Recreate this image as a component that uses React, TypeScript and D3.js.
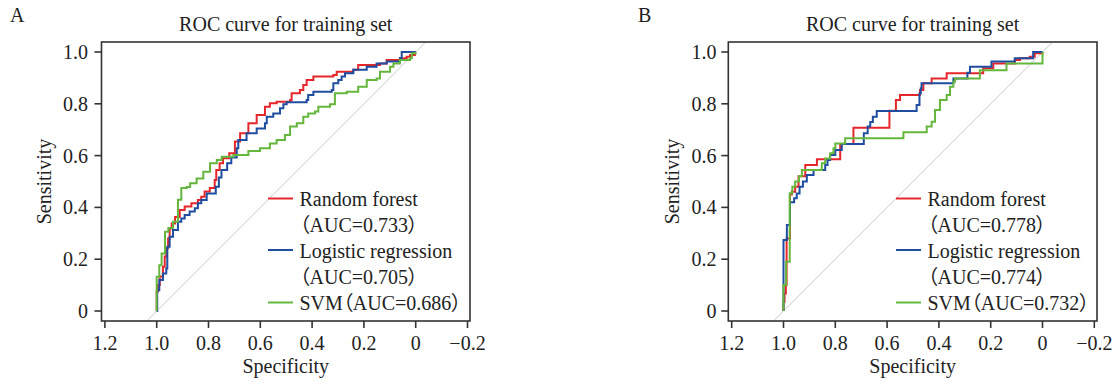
import React from "react";
import * as d3 from "d3";

// ---------- data ----------
const xTickValues = [1.2, 1.0, 0.8, 0.6, 0.4, 0.2, 0, -0.2];
const xTickLabels = ["1.2", "1.0", "0.8", "0.6", "0.4", "0.2", "0", "−0.2"];
const yTickValues = [0, 0.2, 0.4, 0.6, 0.8, 1.0];
const yTickLabels = ["0", "0.2", "0.4", "0.6", "0.8", "1.0"];
const panelLetters = ["A", "B"];
const panelTitle = "ROC curve for training set";
const xAxisTitle = "Specificity";
const yAxisTitle = "Sensitivity";
const seriesNames = ["Random forest", "Logistic regression", "SVM"];
const seriesColors = ["#e5262b", "#1f4d9f", "#64b63c"];
const aucA = ["0.733", "0.705", "0.686"];
const aucB = ["0.778", "0.774", "0.732"];

// [specificity, sensitivity] – step points (value reached at that specificity)
const rfA: [number, number][] = [
  [1, 0], [1, 0.075], [0.995, 0.1], [0.988, 0.133], [0.976, 0.171], [0.969, 0.21],
  [0.963, 0.242], [0.956, 0.28], [0.95, 0.319], [0.942, 0.338], [0.929, 0.363],
  [0.911, 0.39], [0.892, 0.403], [0.866, 0.416], [0.841, 0.429], [0.828, 0.441],
  [0.815, 0.461], [0.795, 0.475], [0.776, 0.506], [0.77, 0.544], [0.757, 0.57],
  [0.744, 0.59], [0.72, 0.609], [0.698, 0.654], [0.678, 0.686], [0.646, 0.725],
  [0.614, 0.757], [0.582, 0.789], [0.563, 0.802], [0.537, 0.808], [0.485, 0.815],
  [0.479, 0.841], [0.447, 0.853], [0.434, 0.873], [0.421, 0.892], [0.395, 0.905],
  [0.318, 0.911], [0.305, 0.924], [0.241, 0.931], [0.222, 0.95], [0.138, 0.956],
  [0.112, 0.969], [0.061, 0.976], [0.035, 0.982], [0.022, 0.988], [0.003, 1.0], [0, 1.0],
];
const lrA: [number, number][] = [
  [1, 0], [0.998, 0.08], [0.99, 0.12], [0.976, 0.145], [0.963, 0.164], [0.959, 0.248],
  [0.95, 0.287], [0.937, 0.313], [0.918, 0.345], [0.905, 0.357], [0.892, 0.371],
  [0.873, 0.384], [0.853, 0.397], [0.841, 0.416], [0.828, 0.429], [0.807, 0.454],
  [0.772, 0.48], [0.76, 0.515], [0.75, 0.544], [0.728, 0.57], [0.712, 0.593],
  [0.691, 0.628], [0.685, 0.66], [0.653, 0.686], [0.614, 0.705], [0.582, 0.725],
  [0.575, 0.75], [0.55, 0.763], [0.524, 0.783], [0.511, 0.798], [0.498, 0.806],
  [0.421, 0.815], [0.415, 0.834], [0.395, 0.847], [0.324, 0.853], [0.318, 0.879],
  [0.299, 0.892], [0.286, 0.905], [0.273, 0.918], [0.241, 0.931], [0.189, 0.943],
  [0.151, 0.956], [0.112, 0.963], [0.061, 0.976], [0.054, 1.0], [0, 1.0],
];
const svmA: [number, number][] = [
  [1, 0], [1, 0.132], [0.99, 0.177], [0.981, 0.222], [0.968, 0.306], [0.955, 0.32],
  [0.937, 0.345], [0.918, 0.43], [0.905, 0.475], [0.884, 0.479], [0.871, 0.493],
  [0.846, 0.512], [0.82, 0.538], [0.794, 0.57], [0.768, 0.583], [0.749, 0.596],
  [0.704, 0.602], [0.646, 0.618], [0.601, 0.628], [0.563, 0.647], [0.537, 0.66],
  [0.505, 0.68], [0.485, 0.712], [0.459, 0.725], [0.434, 0.75], [0.415, 0.763],
  [0.389, 0.77], [0.376, 0.789], [0.331, 0.798], [0.312, 0.841], [0.266, 0.847],
  [0.222, 0.866], [0.189, 0.892], [0.151, 0.898], [0.138, 0.924], [0.099, 0.943],
  [0.086, 0.956], [0.061, 0.969], [0.022, 0.976], [0.015, 0.995], [0, 1.0],
];

const rfB: [number, number][] = [
  [1, 0], [1, 0.036], [0.996, 0.068], [0.991, 0.1], [0.988, 0.28], [0.975, 0.45],
  [0.968, 0.46], [0.955, 0.48], [0.942, 0.52], [0.916, 0.564], [0.871, 0.586],
  [0.781, 0.645], [0.73, 0.708], [0.591, 0.773], [0.566, 0.815], [0.55, 0.834],
  [0.473, 0.853], [0.46, 0.879], [0.428, 0.898], [0.37, 0.918], [0.229, 0.937],
  [0.19, 0.956], [0.107, 0.969], [0.087, 0.976], [0.049, 0.982], [0.03, 0.995], [0, 1.0],
];
const lrB: [number, number][] = [
  [1, 0], [1, 0.274], [0.987, 0.332], [0.975, 0.42], [0.959, 0.435], [0.949, 0.454],
  [0.938, 0.48], [0.925, 0.5], [0.91, 0.525], [0.884, 0.544], [0.839, 0.564],
  [0.83, 0.583], [0.82, 0.602], [0.8, 0.622], [0.775, 0.645], [0.69, 0.686],
  [0.675, 0.712], [0.665, 0.73], [0.655, 0.75], [0.64, 0.772], [0.486, 0.795],
  [0.475, 0.84], [0.47, 0.86], [0.467, 0.879], [0.344, 0.898], [0.29, 0.92],
  [0.28, 0.943], [0.197, 0.963], [0.107, 0.976], [0.036, 1.0], [0, 1.0],
];
const svmB: [number, number][] = [
  [1, 0], [1, 0.1], [0.99, 0.19], [0.976, 0.455], [0.966, 0.48], [0.955, 0.5],
  [0.94, 0.52], [0.929, 0.544], [0.852, 0.57], [0.839, 0.589], [0.82, 0.609],
  [0.807, 0.628], [0.8, 0.647], [0.762, 0.667], [0.537, 0.69], [0.447, 0.712],
  [0.428, 0.731], [0.415, 0.776], [0.396, 0.815], [0.37, 0.834], [0.357, 0.866],
  [0.344, 0.885], [0.338, 0.898], [0.242, 0.93], [0.139, 0.956], [0, 0.963], [0, 1.0],
];

const diagonal: [number, number][] = [[1.039, -0.039], [-0.039, 1.039]];

// ---------- layout ----------
const FONT = "'Liberation Serif', 'Times New Roman', 'Noto Sans CJK SC', serif";
const TXT = "#222";

type PanelProps = {
  letter: string;
  letterX: number;
  boxL: number;
  boxR: number;
  xr: [number, number];
  yLabelX: number;
  tickLabelX: number;
  legX: number;
  series: [number, number][][];
  aucs: string[];
  clipId: string;
};

const boxT = 42;
const boxB = 321;

function Panel(p: PanelProps) {
  const x = d3.scaleLinear().domain([1.2, -0.2]).range(p.xr);
  const y = d3.scaleLinear().domain([0, 1]).range([311, 52]);
  const line = d3
    .line<[number, number]>()
    .x((d) => x(d[0]))
    .y((d) => y(d[1]))
    .curve(d3.curveStepAfter);
  const straight = d3
    .line<[number, number]>()
    .x((d) => x(d[0]))
    .y((d) => y(d[1]));
  const cx = (p.boxL + p.boxR) / 2;
  const rows: { t: string; color?: string }[] = [
    { t: seriesNames[0], color: seriesColors[0] },
    { t: "（AUC=" + p.aucs[0] + "）" },
    { t: seriesNames[1], color: seriesColors[1] },
    { t: "（AUC=" + p.aucs[1] + "）" },
    { t: seriesNames[2] + "（AUC=" + p.aucs[2] + "）", color: seriesColors[2] },
  ];
  const rowBase = [206, 232, 257.5, 284, 310];
  return (
    <g fontFamily={FONT} fill={TXT}>
      <defs>
        <clipPath id={p.clipId}>
          <rect x={p.boxL} y={boxT} width={p.boxR - p.boxL} height={boxB - boxT} />
        </clipPath>
      </defs>
      <text x={p.letterX} y={22} fontSize={20}>{p.letter}</text>
      <text x={cx} y={31} fontSize={20} textAnchor="middle">{panelTitle}</text>
      <path d={straight(diagonal) || ""} stroke="#c9c9c9" strokeWidth={1} fill="none" clipPath={`url(#${p.clipId})`} />
      {p.series.map((s, i) => (
        <path key={i} d={line(s) || ""} stroke={seriesColors[i]} strokeWidth={2} fill="none" strokeLinejoin="miter" />
      ))}
      <rect x={p.boxL} y={boxT} width={p.boxR - p.boxL} height={boxB - boxT} fill="none" stroke="#333" strokeWidth={1.6} />
      {yTickValues.map((v, i) => (
        <g key={"y" + i}>
          <line x1={p.boxL - 7} x2={p.boxL} y1={y(v)} y2={y(v)} stroke="#333" strokeWidth={1.6} />
          <text x={p.tickLabelX} y={y(v) + 7} fontSize={20} textAnchor="end">{yTickLabels[i]}</text>
        </g>
      ))}
      {xTickValues.map((v, i) => (
        <g key={"x" + i}>
          <line x1={x(v)} x2={x(v)} y1={boxB} y2={boxB + 7} stroke="#333" strokeWidth={1.6} />
          <text x={x(v)} y={350} fontSize={20} textAnchor="middle">{xTickLabels[i]}</text>
        </g>
      ))}
      <text x={cx} y={373} fontSize={20} textAnchor="middle">{xAxisTitle}</text>
      <text transform={`translate(${p.yLabelX},${(boxT + boxB) / 2}) rotate(-90)`} fontSize={20} textAnchor="middle">{yAxisTitle}</text>
      {rows.map((r, i) => (
        <g key={"l" + i}>
          {r.color && (
            <line x1={p.legX} x2={p.legX + 25} y1={rowBase[i] - 7.5} y2={rowBase[i] - 7.5} stroke={r.color} strokeWidth={2} />
          )}
          <text x={p.legX + 31.5} y={rowBase[i]} fontSize={20} style={{ fontFeatureSettings: '"palt" 1' }}>
            {r.t}
          </text>
        </g>
      ))}
    </g>
  );
}

export default function App() {
  return (
    <svg width={1116} height={384} style={{ position: "fixed", left: 0, top: 0, background: "#fff" }}>
      <rect width={1116} height={384} fill="#fff" />
      <Panel letter={panelLetters[0]} letterX={10} boxL={101.5} boxR={470} xr={[104.9, 467.5]} yLabelX={51}
        tickLabelX={88} legX={268} series={[rfA, lrA, svmA]} aucs={aucA} clipId="clipA" />
      <Panel letter={panelLetters[1]} letterX={638} boxL={728.3} boxR={1097} xr={[731.7, 1094.3]} yLabelX={679}
        tickLabelX={716.5} legX={896} series={[rfB, lrB, svmB]} aucs={aucB} clipId="clipB" />
    </svg>
  );
}
